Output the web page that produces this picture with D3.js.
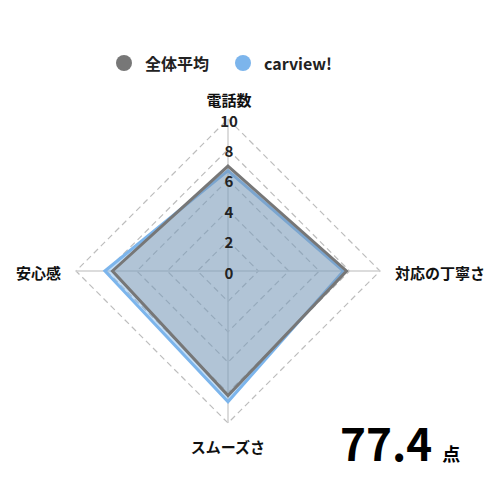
<!DOCTYPE html>
<html><head><meta charset="utf-8">
<script src="https://cdn.jsdelivr.net/npm/d3@7"></script>
<style>
html,body{margin:0;padding:0;background:#fff;}
text{font-family:"Noto Sans CJK JP","Noto Sans",sans-serif;}
</style></head>
<body><svg id="c" width="500" height="500"></svg>
<script>
const axes = ["電話数","対応の丁寧さ","スムーズさ","安心感"];
const seriesNames = ["全体平均","carview!"];
const avgValues = [6.9, 7.8, 8.2, 7.6];
const carviewValues = [6.6, 7.6, 8.6, 8.1];
const ticks = [0,2,4,6,8,10];
const score = "77.4";
const scoreUnit = "点";
const colors = ["#777777","#7cb5ec"];

const svg = d3.select("#c");
const cx = 228, cy = 271, R = 152;
const r = d3.scaleLinear().domain([0,10]).range([0,R]);
const ang = d3.scaleLinear().domain([0,axes.length]).range([0,2*Math.PI]);
const pt = (i,v)=>[cx + r(v)*Math.sin(ang(i)), cy - r(v)*Math.cos(ang(i))];

// grid
const g = svg.append("g");
ticks.filter(t=>t>0).forEach(t=>{
  g.append("polygon")
   .attr("points", axes.map((a,i)=>pt(i,t).join(",")).join(" "))
   .attr("fill","none").attr("stroke","#bdbdbd").attr("stroke-width",1.2)
   .attr("stroke-dasharray","6,4");
});
axes.forEach((a,i)=>{
  const p = pt(i,10);
  g.append("line").attr("x1",cx).attr("y1",cy).attr("x2",p[0]).attr("y2",p[1])
   .attr("stroke","#d0d0d0").attr("stroke-width",1.5);
});

// series
const line = d3.line().curve(d3.curveLinearClosed);
const data = [
  {vals:carviewValues, color:colors[1], fill:"rgba(124,181,236,0.45)"},
  {vals:avgValues, color:colors[0], fill:"rgba(119,119,119,0.25)"}
];
data.forEach(s=>{
  svg.append("path").attr("d", line(s.vals.map((v,i)=>pt(i,v))))
    .attr("fill", s.fill).attr("stroke", s.color).attr("stroke-width",3)
    .attr("stroke-linejoin","miter");
});

// tick labels
ticks.forEach(t=>{
  svg.append("text").attr("x",cx+1).attr("y",cy - r(t)+1)
    .attr("text-anchor","middle").attr("dominant-baseline","central")
    .attr("font-size",15).attr("font-weight",700).attr("fill","#222").text(t);
});

// axis labels
const lab = [
  {x:cx+1, y:99, anchor:"middle"},
  {x:395, y:272, anchor:"start"},
  {x:cx, y:446, anchor:"middle"},
  {x:61, y:272, anchor:"end"}
];
axes.forEach((a,i)=>{
  svg.append("text").attr("x",lab[i].x).attr("y",lab[i].y)
    .attr("text-anchor",lab[i].anchor).attr("dominant-baseline","central")
    .attr("font-size",15).attr("font-weight",700).attr("fill","#111").text(a);
});

// legend
const leg = [{x:124},{x:243}];
seriesNames.forEach((n,i)=>{
  svg.append("circle").attr("cx",leg[i].x).attr("cy",63).attr("r",8).attr("fill",colors[i]);
  svg.append("text").attr("x",leg[i].x+21).attr("y",63).attr("dominant-baseline","central")
    .attr("font-size",16).attr("font-weight",700).attr("fill","#222").text(n);
});

// score
const st = svg.append("text").attr("x",340).attr("y",461).attr("fill","#000");
st.append("tspan").attr("font-size",44).attr("font-weight",700).text(score);
st.append("tspan").attr("dx",10).attr("font-size",18).attr("font-weight",700).text(scoreUnit);
</script></body></html>
